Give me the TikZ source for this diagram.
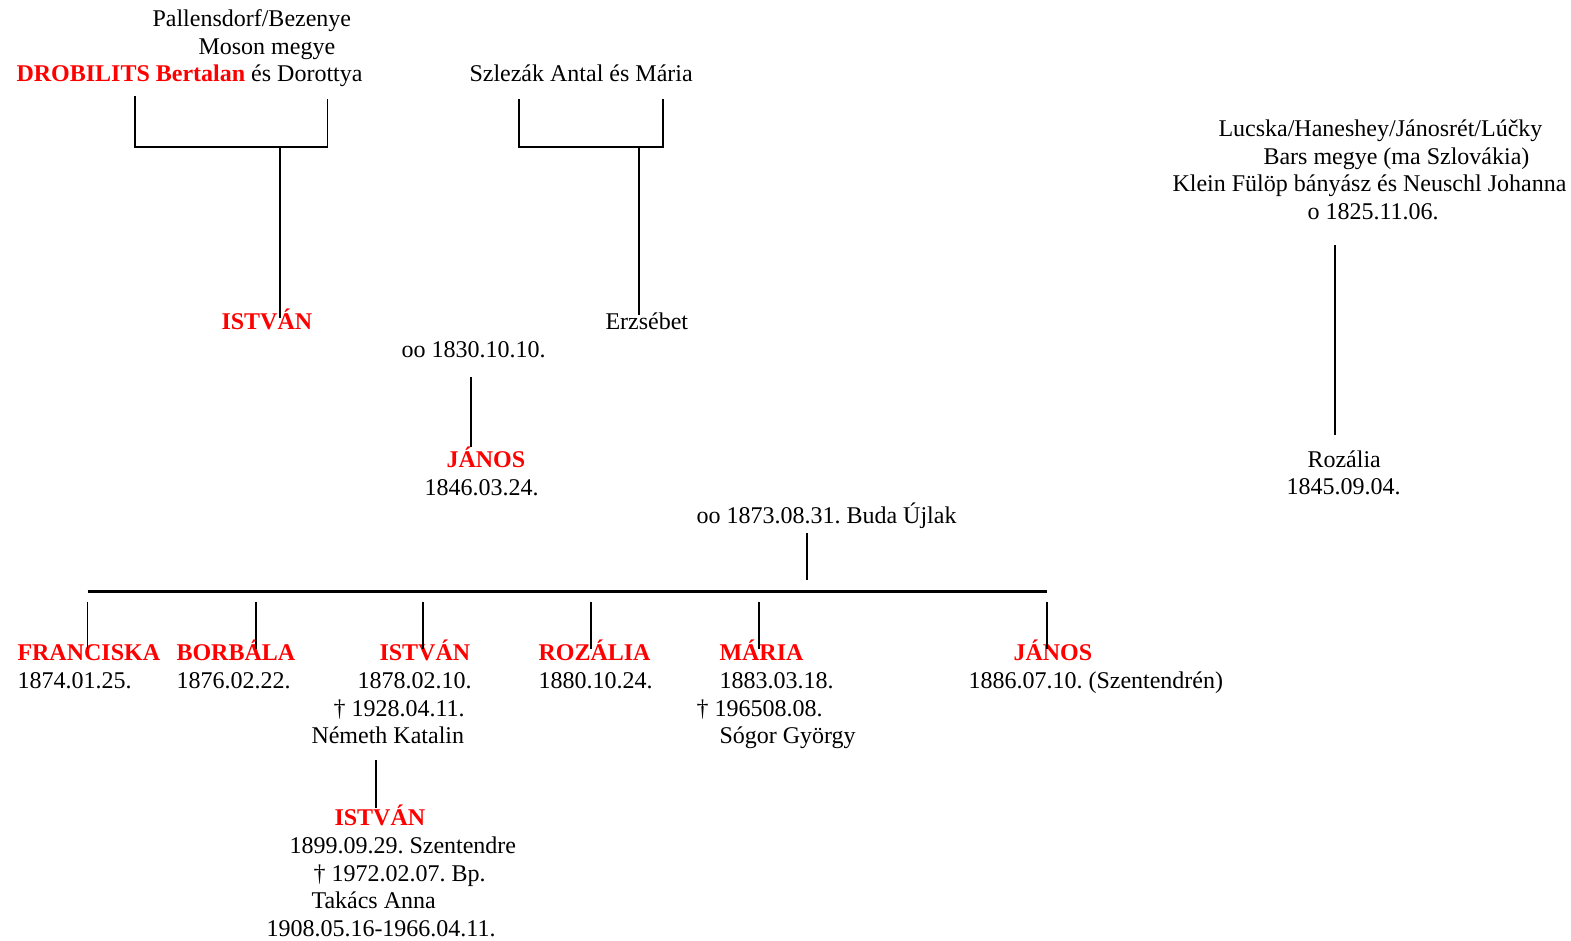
\documentclass[tikz,border=0pt]{standalone}
\usepackage{fontspec}
\setmainfont{Liberation Serif}
\definecolor{gred}{RGB}{255,0,0}
\frenchspacing
\begin{document}
\begin{tikzpicture}[x=1pt,y=-1pt,
  txt/.style={anchor=base west,inner sep=0pt,outer sep=0pt,font=\fontsize{24}{28}\selectfont\frenchspacing},
  nm/.style={anchor=base west,inner sep=0pt,outer sep=0pt,text=gred,font=\fontsize{24}{28}\selectfont\bfseries},
  ln/.style={line width=1.6pt},
  bar/.style={line width=2.2pt}]
\useasboundingbox (0,0) rectangle (1571,941);

\begin{scope}[shift={(1.5,1)}]
% ---- top left family
\node[txt] (p1) at (151,26) {Pallensdorf/Bezenye};
\node[txt] (p2) at (197,53.5) {Moson megye};
\node[txt] (p3) at (15,81) {\textcolor{gred}{\bfseries DROBILITS Bertalan} és Dorottya};
\node[txt] (sz) at (468,81) {Szlezák Antal és Mária};
\node[nm] (ist1) at (220,328) {ISTVÁN};
\node[txt] (erz) at (604,328) {Erzsébet};
\node[txt] (m1) at (400,356) {oo 1830.10.10.};
\node[nm] (jan1) at (445,466) {JÁNOS};
\node[txt] (jan1d) at (423,494) {1846.03.24.};

% ---- right family
\node[txt] (r1) at (1217,136) {Lucska/Haneshey/Jánosrét/Lúčky};
\node[txt] (r2) at (1262,164) {Bars megye (ma Szlovákia)};
\node[txt] (r3) at (1171,191) {Klein Fülöp bányász és Neuschl Johanna};
\node[txt] (r4) at (1306,219) {o 1825.11.06.};
\node[txt] (roz) at (1306,466) {Rozália};
\node[txt] (rozd) at (1285,493) {1845.09.04.};

% ---- marriage
\node[txt] (m2) at (695,522) {oo 1873.08.31. Buda Újlak};

% ---- children
\node[nm] (c1) at (16,659.5) {FRANCISKA};
\node[txt] (c1a) at (16,687) {1874.01.25.};
\node[nm] (c2) at (175,659.5) {BORBÁLA};
\node[txt] (c2a) at (175,687) {1876.02.22.};
\node[nm] (c3) at (378,659.5) {ISTVÁN};
\node[txt] (c3a) at (356,687) {1878.02.10.};
\node[txt] (c3b) at (332,715) {† 1928.04.11.};
\node[txt] (c3c) at (310,742) {Németh Katalin};
\node[nm] (c4) at (537,659.5) {ROZÁLIA};
\node[txt] (c4a) at (537,687) {1880.10.24.};
\node[nm] (c5) at (718,659.5) {MÁRIA};
\node[txt] (c5a) at (718,687) {1883.03.18.};
\node[txt] (c5b) at (695,715) {† 196508.08.};
\node[txt] (c5c) at (718,742) {Sógor György};
\node[nm] (c6) at (1012,659.5) {JÁNOS};
\node[txt] (c6a) at (967,687) {1886.07.10. (Szentendrén)};

% ---- grandson
\node[nm] (g1) at (333,824) {ISTVÁN};
\node[txt] (g1a) at (288,852) {1899.09.29. Szentendre};
\node[txt] (g1b) at (312,880) {† 1972.02.07. Bp.};
\node[txt] (g1c) at (310,907) {Takács Anna};
\node[txt] (g1d) at (265,935) {1908.05.16-1966.04.11.};
\end{scope}

% ---- connector points
\coordinate (b1a) at (135,96);  \coordinate (b1b) at (135,147);
\coordinate (b1c) at (327.5,147); \coordinate (b1d) at (327.5,99);
\coordinate (s1a) at (280,147); \coordinate (s1b) at (280,318);
\coordinate (b2a) at (519,99); \coordinate (b2b) at (519,147);
\coordinate (b2c) at (663,147); \coordinate (b2d) at (663,99);
\coordinate (s2a) at (639,147); \coordinate (s2b) at (639,315);
\coordinate (j1a) at (471,377); \coordinate (j1b) at (471,447);
\coordinate (rza) at (1335,245); \coordinate (rzb) at (1335,435);
\coordinate (mma) at (807,533); \coordinate (mmb) at (807,580);
\coordinate (bra) at (87.5,591.5);  \coordinate (brb) at (1047,591.5);
\coordinate (gsa) at (376,760); \coordinate (gsb) at (376,808);

\draw[ln] (b1a) -- (b1b) -- (b1c) -- (b1d);
\draw[ln] (s1a) -- (s1b);
\draw[ln] (b2a) -- (b2b) -- (b2c) -- (b2d);
\draw[ln] (s2a) -- (s2b);
\draw[ln] (j1a) -- (j1b);
\draw[ln] (rza) -- (rzb);
\draw[ln] (mma) -- (mmb);
\draw[bar] (bra) -- (brb);
\foreach \cx/\nmx in {87.5/k1,256/k2,423/k3,591/k4,759/k5,1047/k6}{
  \coordinate (\nmx a) at (\cx,602);
  \coordinate (\nmx b) at (\cx,649);
  \draw[ln] (\nmx a) -- (\nmx b);
}
\draw[ln] (gsa) -- (gsb);
\end{tikzpicture}
\end{document}
